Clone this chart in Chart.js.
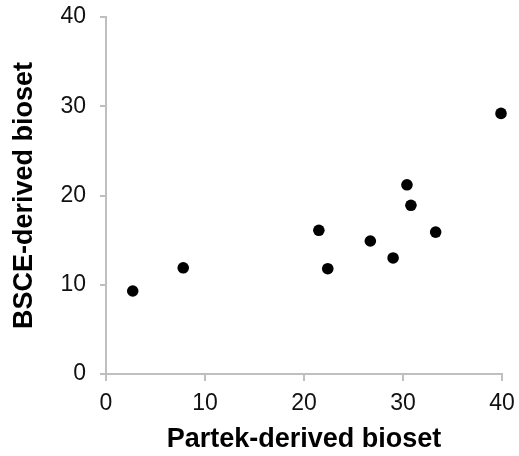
<!DOCTYPE html>
<html>
<head>
<meta charset="utf-8">
<script src="https://cdn.jsdelivr.net/npm/chart.js@4"></script>
<style>
  html, body { margin: 0; padding: 0; background: #fff; }
  #wrap { width: 519px; height: 456px; }
</style>
</head>
<body>
<div id="wrap"><canvas id="c" width="519" height="456"></canvas></div>
<script>
const xValues = [2.7, 7.8, 21.5, 22.4, 26.7, 29.0, 30.4, 30.8, 33.3, 39.9];
const yValues = [9.3, 11.9, 16.1, 11.8, 14.9, 13.0, 21.2, 18.9, 15.9, 29.2];
const xTitle = 'Partek-derived bioset';
const yTitle = 'BSCE-derived bioset';
const axisMin = 0, axisMax = 40, axisStep = 10;

const points = xValues.map((x, i) => ({ x: x, y: yValues[i] }));
const FONT = '"Liberation Sans", Arial, sans-serif';
const AXIS = '#bfbfbf';

new Chart(document.getElementById('c'), {
  type: 'scatter',
  data: {
    datasets: [{
      data: points,
      backgroundColor: '#000',
      borderColor: '#000',
      borderWidth: 0,
      pointRadius: 5.8,
      pointHoverRadius: 5.8,
      clip: false
    }]
  },
  options: {
    responsive: false,
    animation: false,
    devicePixelRatio: 1,
    layout: { padding: 0 },
    plugins: { legend: { display: false }, tooltip: { enabled: false } },
    scales: {
      x: {
        type: 'linear',
        min: axisMin, max: axisMax,
        ticks: { stepSize: axisStep, padding: 9, color: '#111', font: { family: FONT, size: 23 } },
        grid: { drawOnChartArea: false, drawTicks: true, tickLength: 7, color: AXIS, lineWidth: 2 },
        border: { color: AXIS, width: 2 },
        title: { display: true, text: xTitle, color: '#000', padding: { top: 0, bottom: 0 },
                 font: { family: FONT, size: 27, weight: 'bold', lineHeight: 1.2 } },
        afterFit(s) { s.height = 82; s.paddingLeft = 0; s.paddingRight = 17; }
      },
      y: {
        type: 'linear',
        min: axisMin, max: axisMax,
        ticks: { stepSize: axisStep, padding: 14, color: '#111', font: { family: FONT, size: 23 } },
        grid: { drawOnChartArea: false, drawTicks: true, tickLength: 6, color: AXIS, lineWidth: 2 },
        border: { color: AXIS, width: 2 },
        title: { display: true, text: yTitle, color: '#000', padding: { top: 8, bottom: 0 },
                 font: { family: FONT, size: 27, weight: 'bold', lineHeight: 1.2 } },
        afterFit(s) { s.width = 106; s.paddingTop = 17; s.paddingBottom = 0; }
      }
    }
  }
});
</script>
</body>
</html>
